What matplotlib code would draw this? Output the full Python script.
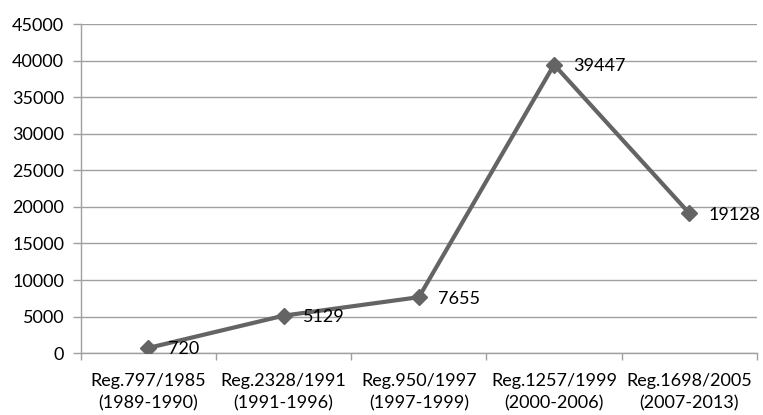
import matplotlib
matplotlib.use("Agg")
import matplotlib.pyplot as plt
import numpy as np

categories = ["Reg.797/1985\n(1989-1990)", "Reg.2328/1991\n(1991-1996)",
              "Reg.950/1997\n(1997-1999)", "Reg.1257/1999\n(2000-2006)",
              "Reg.1698/2005\n(2007-2013)"]
values = [720, 5129, 7655, 39447, 19128]

plt.rcParams['font.family'] = ['Lato', 'DejaVu Sans']
fs = 13

fig = plt.figure(figsize=(7.63, 4.15), dpi=100)
ax = fig.add_axes([0.106, 0.149, 0.886, 0.793])

x = np.arange(len(values))
ax.plot(x, values, color="#646464", lw=3, marker="D", markersize=8, zorder=3)
for xi, v in zip(x, values):
    ax.annotate(str(v), (xi, v), xytext=(14, -1), textcoords="offset points",
                va="center", ha="left", fontsize=fs, color="black")

ax.set_xlim(-0.5, len(values) - 0.5)
ax.set_ylim(0, 45000)
ax.set_yticks(np.arange(0, 45001, 5000))
ax.yaxis.grid(True, color="#a0a0a0", lw=1)
ax.set_axisbelow(True)

ax.set_xticks(x)
ax.set_xticklabels(categories, fontsize=fs, linespacing=1.5)
ax.set_xticks(np.arange(-0.5, len(values)), minor=True)
ax.tick_params(axis="x", which="major", length=0, pad=14)
ax.tick_params(axis="x", which="minor", length=5, color="#a0a0a0", width=1)
ax.tick_params(axis="y", length=6, color="#a0a0a0", width=1, labelsize=fs, pad=6)

for s in ["top", "right"]:
    ax.spines[s].set_visible(False)
for s in ["left", "bottom"]:
    ax.spines[s].set_color("#a0a0a0")
    ax.spines[s].set_linewidth(1)

fig.savefig("out.png", dpi=100)
